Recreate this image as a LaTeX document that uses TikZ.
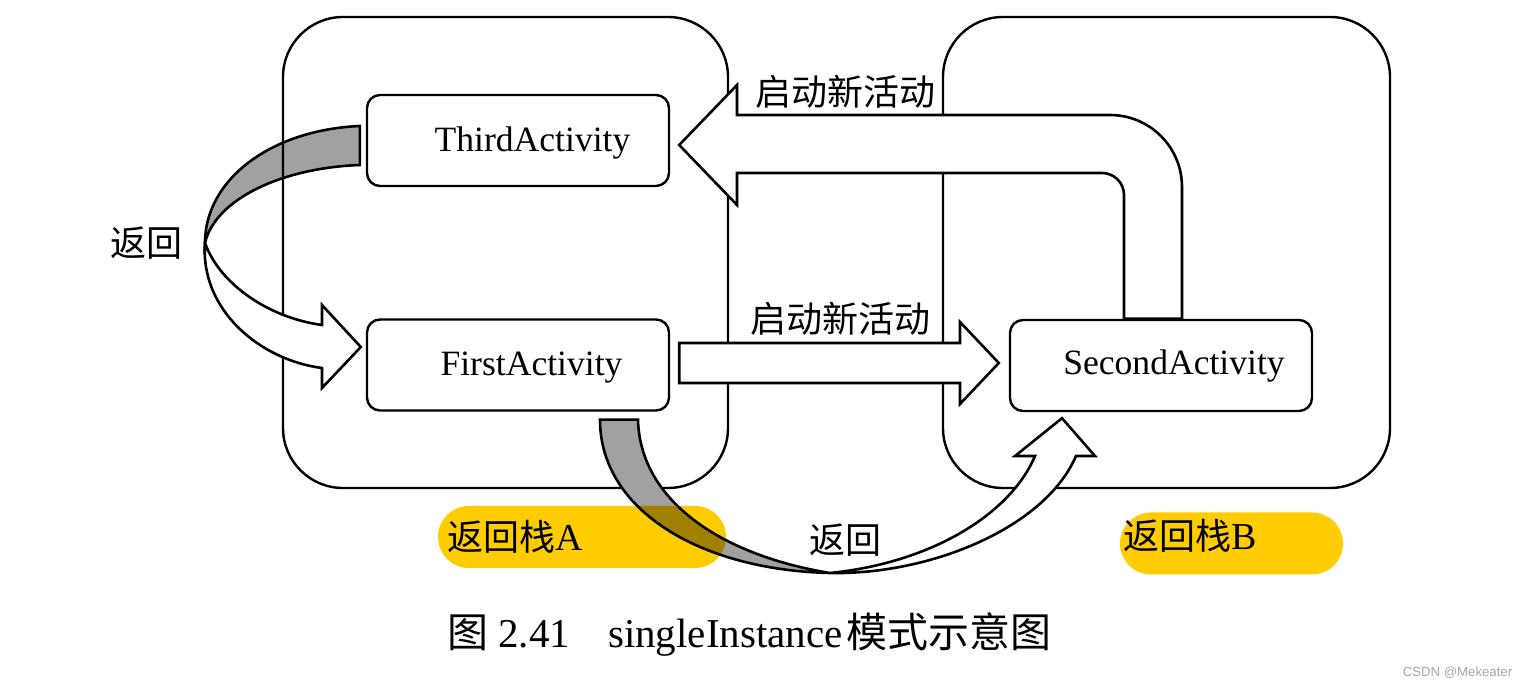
\documentclass[tikz,border=0pt]{standalone}
\usepackage{fontspec}
\setmainfont{Liberation Serif}
\newfontfamily\cjk{Noto Sans CJK SC}
\newfontfamily\wmfont{Liberation Sans}
\usetikzlibrary{calc}
\definecolor{labyellow}{RGB}{255,204,0}
\begin{document}
\begin{tikzpicture}[x=0.5pt,y=-0.5pt,
  stackbox/.style={draw,line width=1.2pt,rounded corners=30pt,inner sep=0pt,minimum height=235.5pt},
  actbox/.style={draw,line width=1.2pt,rounded corners=6.5pt,minimum width=151pt,minimum height=45.5pt,inner sep=0pt,fill=white},
  acttext/.style={font=\fontsize{17.8pt}{20pt}\selectfont,anchor=base,inner sep=0pt},
  cjklabel/.style={font=\cjk\fontsize{18pt}{20pt}\selectfont,inner sep=0pt},
  pill/.style={fill=labyellow,rounded corners=15.5pt,minimum height=31pt,inner sep=0pt},
  whitearrow/.style={draw,fill=white,line width=1.3pt,line join=miter},
  grayarrow/.style={draw,fill=black,fill opacity=0.37,draw opacity=1,line width=1.3pt},
]
\useasboundingbox (0,0) rectangle (1527,689);

% return stacks
\node[stackbox,minimum width=222.5pt] (stackA) at (505.5,252.5) {};
\node[stackbox,minimum width=223.5pt] (stackB) at (1166.5,252.5) {};

% activity boxes
\node[actbox] (third) at (518,140.5) {};
\node[actbox] (first) at (518,365) {};
\node[actbox] (second) at (1161,365.5) {};

\coordinate (twistL) at (205,243);
\coordinate (twistB) at (830,573);

% white underlay of the bottom shaded ribbon
\fill[white] ($(first.south)+(82,8)$) .. controls (600,510) and (700,570) .. (twistB)
   .. controls (720,555) and (640,500) .. ($(first.south)+(120,8)$) -- cycle;

% yellow labels
\node[pill,minimum width=144pt] (pillA) at (582,537) {};
\node[pill,minimum width=111.5pt] (pillB) at (1231.5,543.5) {};

% top arrow: second -> third
\path[whitearrow] ($(second.north)+(21,0)$) -- (1182,187)
   .. controls (1182,147.2) and (1149.8,115) .. (1110,115) -- (737,115) -- (737,85)
   -- ($(third.east)+(9,4.5)$) -- (737,205) -- (737,173) -- (1102,173)
   .. controls (1114.2,173) and (1124,182.8) .. (1124,195)
   -- ($(second.north)+(-37,0)$) -- cycle;

% horizontal arrow: first -> second
\path[whitearrow] ($(first.east)+(9,-22)$) -- (960,343) -- (960,322)
   -- ($(second.west)+(-10,-2.5)$) -- (960,404) -- (960,383)
   -- ($(first.east)+(9,18)$) -- cycle;

% left return arrow: third -> first
\path[grayarrow] ($(third.west)+(-6,-14.5)$) .. controls (270,130) and (205,180) .. (twistL)
   .. controls (215,200) and (280,168) .. ($(third.west)+(-6,24.5)$) -- cycle;
\path[whitearrow] (twistL) .. controls (200,310) and (260,360) .. (322,368) -- (322,388)
   -- ($(first.west)+(-5,-18)$) -- (322,305) -- (322,325)
   .. controls (270,318) and (220,285) .. (twistL) -- cycle;

% bottom return arrow: first -> second
\path[grayarrow] ($(first.south)+(82,8)$) .. controls (600,510) and (700,570) .. (twistB)
   .. controls (720,555) and (640,500) .. ($(first.south)+(120,8)$) -- cycle;
\path[whitearrow] (twistB) .. controls (930,575) and (1045,528) .. (1076,456) -- (1095,456)
   -- ($(second.south)+(-99,6)$) -- (1015,456) -- (1035,456)
   .. controls (1010,515) and (930,563) .. (twistB) -- cycle;

% texts
\node[acttext] (thirdt) at (532.5,152) {ThirdActivity};
\node[acttext] (firstt) at (531.5,376) {FirstActivity};
\node[acttext] (secondt) at (1174,375) {SecondActivity};

\node[cjklabel] (launch1) at (845,92) {启动新活动};
\node[cjklabel] (launch2) at (840,319) {启动新活动};
\node[cjklabel] (back1) at (146,243) {返回};
\node[cjklabel] (back2) at (845,540) {返回};
\node[cjklabel,anchor=west] (pillAt) at (447,537) {返回栈{\rmfamily\fontsize{19pt}{20pt}\selectfont A}};
\node[cjklabel,anchor=west] (pillBt) at (1123,536) {返回栈{\rmfamily\fontsize{19pt}{20pt}\selectfont B}};

\node[anchor=west,inner sep=0pt,font=\fontsize{20.5pt}{22pt}\selectfont] (caption) at (447,635)
  {{\cjk 图}\hspace{5pt}2.41\hspace{19pt}singleInstance\hspace{2pt}{\cjk 模式示意图}};

\node[font=\wmfont\fontsize{6.6pt}{8pt}\selectfont,text=gray!70,inner sep=0pt] (wm) at (1457.5,673) {CSDN @Mekeater};
\end{tikzpicture}
\end{document}
